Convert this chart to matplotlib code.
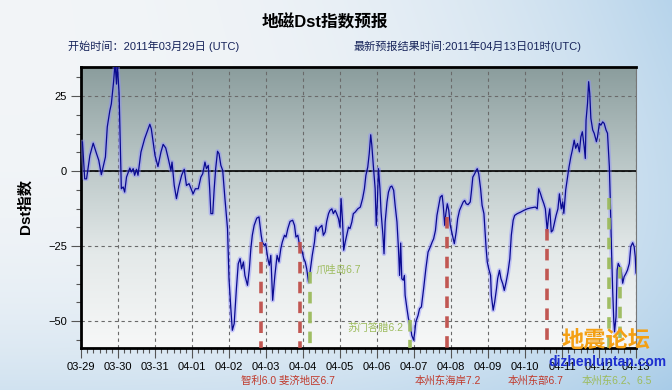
import numpy as np
import matplotlib
matplotlib.use('Agg')
import matplotlib.pyplot as plt
from matplotlib.ticker import MultipleLocator, FixedLocator
from matplotlib.colors import LinearSegmentedColormap

plt.rcParams['font.family'] = ['Liberation Sans', 'Noto Sans CJK SC']

# Dst index (days since 2011-03-29 00:00 UTC)
dst_day = [0.04, 0.10, 0.15, 0.24, 0.33, 0.42, 0.48, 0.55, 0.66, 0.71, 0.78, 0.82, 0.88, 0.92, 0.96, 0.98,
           1.03, 1.09, 1.14, 1.18, 1.23, 1.32, 1.36, 1.41, 1.45, 1.50, 1.54, 1.62, 1.72, 1.86, 1.90, 2.00,
           2.08, 2.16, 2.22, 2.29, 2.36, 2.43, 2.46, 2.52, 2.58, 2.64, 2.72, 2.79, 2.85, 2.92, 2.99,
           3.03, 3.09, 3.17, 3.24, 3.29, 3.35, 3.39, 3.44, 3.48, 3.51, 3.56, 3.60, 3.64, 3.69, 3.73, 3.78,
           3.83, 3.89, 3.96, 4.00, 4.05, 4.09, 4.14, 4.20, 4.25, 4.30, 4.34, 4.39, 4.43, 4.50, 4.55, 4.59,
           4.63, 4.68, 4.75, 4.81, 4.87, 4.90, 4.96, 4.99, 5.05, 5.09, 5.13, 5.18, 5.24, 5.30, 5.35, 5.40,
           5.44, 5.50, 5.54, 5.59, 5.65, 5.72, 5.77, 5.81, 5.86, 5.90, 5.94, 5.98, 6.02, 6.06, 6.10, 6.15,
           6.19, 6.25, 6.31, 6.35, 6.40, 6.44, 6.51, 6.55, 6.60, 6.64, 6.69, 6.73, 6.78, 6.82, 6.87, 6.91,
           6.96, 7.00, 7.03, 7.07, 7.10, 7.14, 7.18, 7.23, 7.27, 7.32, 7.36, 7.41, 7.48, 7.55, 7.61, 7.66,
           7.70, 7.75, 7.79, 7.83, 7.86, 7.90, 7.95, 7.98, 8.01, 8.04, 8.08, 8.11, 8.16, 8.19, 8.22, 8.27,
           8.31, 8.36, 8.40, 8.45, 8.49, 8.54, 8.58, 8.61, 8.64, 8.67, 8.71, 8.74, 8.76, 8.81, 8.85, 8.90,
           8.94, 8.99, 9.02, 9.05, 9.11, 9.15, 9.20, 9.26, 9.32, 9.38, 9.44, 9.49, 9.53, 9.58, 9.62, 9.67,
           9.71, 9.76, 9.79, 9.83, 9.86, 9.90, 9.94, 9.98, 10.05, 10.09, 10.14, 10.18, 10.23, 10.27, 10.33,
           10.37, 10.41, 10.46, 10.52, 10.55, 10.59, 10.64, 10.68, 10.71, 10.75, 10.80, 10.84, 10.89, 10.91,
           10.95, 10.98, 11.02, 11.07, 11.09, 11.14, 11.18, 11.23, 11.26, 11.31, 11.35, 11.40, 11.44, 11.49,
           11.54, 11.59, 11.63, 11.68, 11.72, 11.79, 11.88, 11.97, 12.06, 12.15, 12.28, 12.33, 12.37, 12.42,
           12.46, 12.51, 12.55, 12.60, 12.64, 12.67, 12.71, 12.75, 12.80, 12.84, 12.89, 12.93, 12.98, 13.02,
           13.05, 13.10, 13.15, 13.19, 13.24, 13.28, 13.33, 13.37, 13.42, 13.47, 13.51, 13.55, 13.60, 13.63,
           13.65, 13.69, 13.72, 13.75, 13.78, 13.83, 13.87, 13.93, 13.96, 14.01, 14.05, 14.10, 14.14, 14.19,
           14.23, 14.28, 14.31, 14.34, 14.37, 14.40, 14.42, 14.46, 14.49, 14.52, 14.56, 14.60, 14.64, 14.68,
           14.73, 14.77, 14.82, 14.86, 14.91, 14.95, 14.98, 15.00]
dst_val = [9.7, -2.6, -2.6, 5.2, 9.3, 5.8, 3.6, -1.2, 4.7, 14.7, 20.2, 22.4, 29.7, 36, 29, 36,
           25.8, -5.9, -5.3, -7, -2, 1, -0.3, 0.8, -1.4, 0.6, -1.4, 6.3, 10.8, 15.6, 14.1, 5.2,
           1.5, 6.3, 8.9, 7.7, 4.1, 0.2, 3, -4.8, -9.2, -5.3, -1.4, 0.6, -4.8, -4.2, -6.4,
           -7.6, -5.9, -5.9, -2, -0.9, 3, 0.8, 1.9, -6.4, -14.2, -14.2, -5.9, 0.8, 6.6, 5.8, 1.9,
           0.2, -9.2, -19.2, -35.9, -45.9, -53.1, -50.9, -39.2, -30.9, -29.2, -32.6, -30.3, -34.8, -38.1, -32.6, -25.9,
           -21.4, -18.1, -15.7, -15.3, -21.4, -23.7, -24.8, -24.2, -29.2, -31.4, -28.1, -43.1, -34.8, -28.1, -30.3, -25.9,
           -23.7, -21.4, -22, -19.2, -16.8, -16.4, -18.1, -22, -21.4, -24.2, -25.9, -27, -29.2, -30.3, -32.6, -37,
           -33.7, -28.1, -23.7, -18.7, -20.1, -19, -18.1, -21.4, -20.3, -16.8, -14.2, -13.1, -12.6, -14.2, -13.1, -14.2,
           -15.9, -18.7, -9.2, -17, -26.4, -23.7, -21.4, -18.7, -19.2, -17, -14.2, -13.7, -12.6, -12, -9.2, -5.9,
           -1.4, 1.3, 5.8, 12.1, 8.6, 1.9, -5.9, -18.1, -10.3, 0.8, -5.9, -13.7, -21.4, -27.6, -17, -10.3,
           -7, -5.3, -5, -6.4, -11.4, -17, -25.9, -34.8, -24, -35.9, -36.4, -34.8, -41.4, -45.9, -49.2, -51.4,
           -54.8, -56.4, -53.7, -50.3, -48.1, -45.9, -45.3, -39.2, -32.6, -27, -25.3, -23.7, -22.6, -19.8, -14.8, -11.4,
           -8.7, -8.1, -11.4, -18.1, -14.2, -10.9, -13.1, -18.1, -22, -24.2, -20.3, -15.9, -13.1, -12, -10.3,
           -9.8, -10.9, -11.2, -10.3, -7, -2, -0.9, 0.2, 0.8, -1, -5.9, -11.4, -14.2, -18.1,
           -25.9, -30.3, -32.6, -34.8, -41.4, -46.4, -43.7, -39.2, -35.9, -33.1, -35.9, -37.6, -39.8, -37,
           -33.7, -29.2, -21.4, -16.4, -14.8, -14.2, -13.7, -13.1, -12.6, -12.3, -12, -12.6, -5.9, -7.6,
           -9.2, -10.9, -12.6, -19.8, -14.8, -12.6, -20.3, -19.8, -17, -14.8, -12.6, -7.6, -12.6, -10.3,
           -14.1, -6.3, -1.9, 1.4, 4.8, 7, 10.3, 7.6, 9.2, 6.4, 11.4, 13.1, 8.1, 4.2,
           17, 22.6, 29.8, 25.9, 17.6, 13.7, 12.6, 9.8, 11.4, 15.9, 15.3, 16.4, 15.9, 13.7,
           12.6, 1.4, -11.9, -27, -40, -50, -53.6, -48.6, -33, -30.8, -31.9, -33, -37.4, -35.2,
           -34.1, -33, -30.8, -25.2, -23.9, -25.2, -28.6, -34]

day_labels = ['03-29', '03-30', '03-31', '04-01', '04-02', '04-03', '04-04', '04-05',
              '04-06', '04-07', '04-08', '04-09', '04-10', '04-11', '04-12', '04-13']

# earthquake markers: time (days), Dst value where the marker starts, colour group
quake_day = [4.86, 5.92, 6.19, 8.88, 9.90, 12.60, 14.28, 14.57]
quake_top = [-23.7, -23.7, -33.7, -49.8, -15.3, -19.2, -9.1, -31.9]
quake_red = [True, True, False, False, True, True, False, False]

RED = '#bf4f4a'
GREEN = '#9cbb5c'

fig = plt.figure(figsize=(6.72, 3.9), dpi=100)

# sky-ish page background
bg = fig.add_axes([0, 0, 1, 1], zorder=-10)
yy, xx = np.mgrid[0:1:200j, 0:1:340j]
w = np.clip(0.55 * xx ** 3 + 0.45 * yy ** 4 + 0.25 * (xx * (1 - yy)) ** 2, 0, 1)
white = np.array([0.95, 0.96, 0.97])
blue = np.array([0.66, 0.80, 0.91])
img = white[None, None, :] * (1 - w[..., None]) + blue[None, None, :] * w[..., None]
bg.imshow(img, extent=[0, 1, 0, 1], aspect='auto', origin='upper')
bg.axis('off')

ax = fig.add_axes([81 / 672, 42 / 390, 555 / 672, 281 / 390])
ymin, ymax = -59.0, 34.7
cmap = LinearSegmentedColormap.from_list('plotbg', ['#8b9d9d', '#b9c6c6', '#e4e9e9', '#f7f8f8'])
ax.imshow(np.linspace(0, 1, 256)[:, None], cmap=cmap, extent=[0, 15, ymin, ymax],
          aspect='auto', origin='upper', zorder=0)

ax.grid(which='major', ls=(0, (3, 3)), color='#6a6a6a', lw=0.8, zorder=1)
ax.axhline(0, color='black', lw=1.2, zorder=2)

ax.plot(dst_day, dst_val, color='#8c8cff', lw=3.2, alpha=0.45, zorder=3, solid_joinstyle='round')
ax.plot(dst_day, dst_val, color='#0a0a90', lw=0.9, zorder=4)

for d, top, red in zip(quake_day, quake_top, quake_red):
    ax.plot([d, d], [top, ymin], color=RED if red else GREEN, lw=2.6,
            dashes=(3.2, 2.3), solid_capstyle='butt', zorder=5, alpha=0.95)

ax.text(6.33, -33, '爪哇岛6.7', color=GREEN, fontsize=7.5, va='center', ha='left', zorder=6)
ax.text(7.2, -52.3, '苏门答腊6.2', color=GREEN, fontsize=7.5, va='center', ha='left', zorder=6)

ax.set_xlim(0, 15)
ax.set_ylim(ymin, ymax)
ax.xaxis.set_major_locator(FixedLocator(range(len(day_labels))))
ax.set_xticklabels(day_labels)
ax.xaxis.set_minor_locator(MultipleLocator(1 / 6))
ax.yaxis.set_major_locator(MultipleLocator(25))
ax.yaxis.set_minor_locator(MultipleLocator(6.25))
ax.tick_params(which='major', direction='out', length=7, width=0.8, color='#555555',
               labelsize=8, pad=3)
ax.tick_params(which='minor', direction='out', length=3.5, width=0.8, color='#555555')

for s in ['left', 'top', 'bottom']:
    ax.spines[s].set_linewidth(2)
    ax.spines[s].set_color('black')
ax.spines['right'].set_linewidth(0.8)
ax.spines['right'].set_color('#777777')

# titles
fig.text(325 / 672, 1 - 22 / 390, '地磁Dst指数预报', ha='center', va='center',
         fontsize=12, fontweight='bold')
fig.text(68 / 672, 1 - 46 / 390, '开始时间：2011年03月29日 (UTC)', ha='left', va='center',
         fontsize=8, color='#16235a')
fig.text(354 / 672, 1 - 46 / 390, '最新预报结果时间:2011年04月13日01时(UTC)', ha='left', va='center',
         fontsize=8, color='#16235a')
fig.text(25 / 672, 1 - 207 / 390, 'Dst指数', rotation=90, ha='center', va='center',
         fontsize=11, fontweight='bold')

# quake names under the axis
fig.text(241 / 672, 1 - 381 / 390, '智利6.0 斐济地区6.7', color='#c0392b', fontsize=7.5, va='center')
fig.text(415 / 672, 1 - 381 / 390, '本州东海岸7.2', color='#c0392b', fontsize=7.5, va='center')
fig.text(508 / 672, 1 - 381 / 390, '本州东部6.7', color='#c0392b', fontsize=7.5, va='center')
fig.text(582 / 672, 1 - 381 / 390, '本州东6.2、6.5', color=GREEN, fontsize=7.5, va='center')

# watermark
fig.text(606 / 672, 1 - 341 / 390, '地震论坛', color='#f4a014', fontsize=16, fontweight='bold',
         ha='center', va='center', style='italic', zorder=20)
fig.text(607 / 672, 1 - 362 / 390, 'dizhenluntan.com', color='#1c2ecf', fontsize=10,
         fontweight='bold', ha='center', va='center', zorder=20)

fig.savefig('out.png', dpi=100)
